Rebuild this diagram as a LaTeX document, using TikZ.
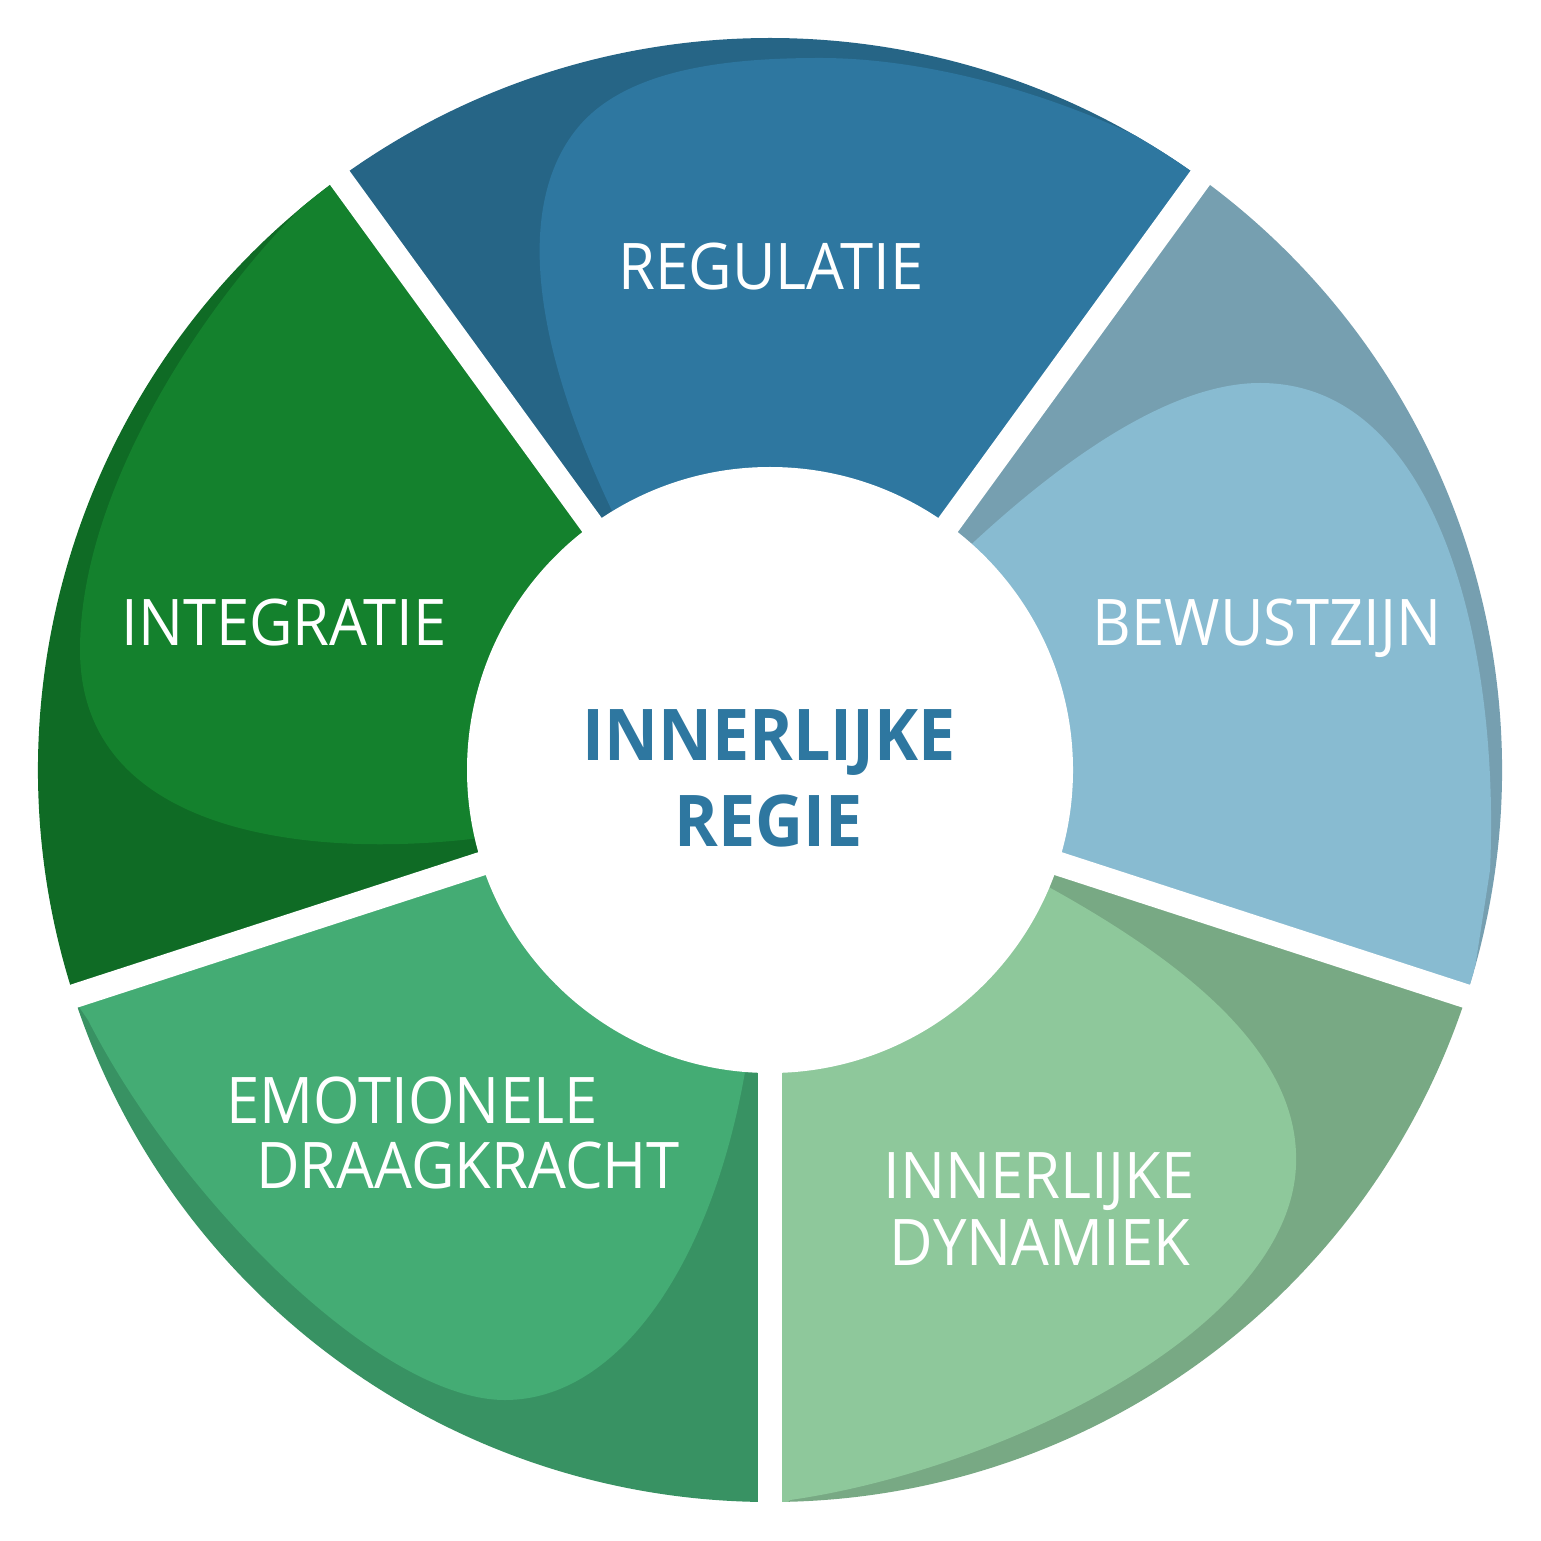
\documentclass[tikz,border=0pt]{standalone}
\usepackage{fontspec}
\setmainfont[FakeStretch=0.93]{Open Sans}
\usepackage{tikz}
\usetikzlibrary{calc}
\definecolor{regLight}{HTML}{2E77A0}
\definecolor{regDark}{HTML}{266586}
\definecolor{bewLight}{HTML}{88BBD1}
\definecolor{bewDark}{HTML}{769FB0}
\definecolor{dynLight}{HTML}{8EC89B}
\definecolor{dynDark}{HTML}{78A984}
\definecolor{emoLight}{HTML}{44AC74}
\definecolor{emoDark}{HTML}{389263}
\definecolor{intLight}{HTML}{14812D}
\definecolor{intDark}{HTML}{0F6B25}
\tikzset{
  seglabel/.style={text=white, font=\fontsize{18.3}{22}\selectfont, anchor=base, inner sep=0pt},
  hublabel/.style={text=regLight, font=\bfseries\fontsize{20.3}{24}\selectfont, anchor=base, inner sep=0pt},
  gapline/.style={white, line width=2.4mm}
}

\begin{document}
\begin{tikzpicture}[x=0.1mm, y=-0.1mm]
  \fill[white] (0,0) rectangle (1541,1541);
  \useasboundingbox (0,0) rectangle (1541,1541);
  \coordinate (c) at (770,770);

  % dark wedges
  \foreach \a/\col in {234/regDark, 306/bewDark, 18/dynDark, 90/emoDark, 162/intDark}
    \fill[\col] (c) -- +(\a:732) arc[start angle=\a, end angle=\a+72, radius=732] -- cycle;

  % REGULATIE
  \begin{scope}
    \clip (c) -- +(234:732) arc[start angle=234, end angle=306, radius=732] -- cycle;
    \fill[regLight] (614,515) .. controls (530,340) and (515,200) .. (580,125)
      .. controls (630,68) and (730,58) .. (820,58)
      .. controls (950,58) and (1100,110) .. (1190,165) -- (1300,250) -- (770,770) -- cycle;
  \end{scope}

  % BEWUSTZIJN
  \begin{scope}
    \clip (c) -- +(306:732) arc[start angle=306, end angle=378, radius=732] -- cycle;
    \fill[bewLight] (960,555) .. controls (1060,460) and (1170,383) .. (1260,383)
      .. controls (1440,383) and (1500,650) .. (1490,870) -- (1470,1000) -- (1000,1000) -- (900,700) -- cycle;
  \end{scope}

  % INNERLIJKE DYNAMIEK
  \begin{scope}
    \clip (c) -- +(18:732) arc[start angle=18, end angle=90, radius=732] -- cycle;
    \fill[dynLight] (1045,885) .. controls (1200,970) and (1300,1060) .. (1296,1165)
      .. controls (1290,1330) and (1000,1470) .. (790,1500) -- (700,1600) -- (700,800) -- cycle;
  \end{scope}

  % EMOTIONELE DRAAGKRACHT
  \begin{scope}
    \clip (c) -- +(90:732) arc[start angle=90, end angle=162, radius=732] -- cycle;
    \fill[emoLight] (747,1060) .. controls (715,1260) and (620,1400) .. (505,1400)
      .. controls (380,1400) and (180,1200) .. (88,1020) -- (40,950) -- (500,800) -- cycle;
  \end{scope}

  % INTEGRATIE
  \begin{scope}
    \clip (c) -- +(162:732) arc[start angle=162, end angle=234, radius=732] -- cycle;
    \fill[intLight] (480,838) .. controls (300,860) and (80,830) .. (80,650)
      .. controls (80,480) and (220,280) .. (320,190) -- (400,100) -- (700,700) -- cycle;
  \end{scope}

  % hub and gaps
  \fill[white] (c) circle[radius=303];
  \foreach \g in {18,90,162,234,306}
    \draw[gapline] (c) -- +(\g:760);

  \node[seglabel] (regulatie) at (771,290) {REGULATIE};
  \node[seglabel] (bewustzijn) at (1267,646) {BEWUSTZIJN};
  \node[seglabel] (integratie) at (284,646) {INTEGRATIE};
  \node[seglabel] (emotionele) at (412,1123) {EMOTIONELE};
  \node[seglabel] (draagkracht) at (468,1188) {DRAAGKRACHT};
  \node[seglabel] (innerlijke) at (1039,1198) {INNERLIJKE};
  \node[seglabel] (dynamiek) at (1040,1265) {DYNAMIEK};

  \node[hublabel] (hubtop) at (769,760) {INNERLIJKE};
  \node[hublabel] (hubbottom) at (769,846) {REGIE};
\end{tikzpicture}
\end{document}
